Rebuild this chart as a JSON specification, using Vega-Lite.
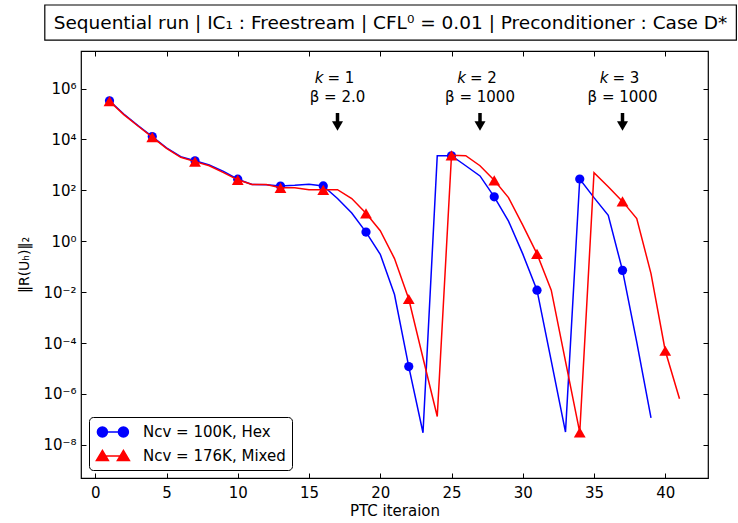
{
  "$schema": "https://vega.github.io/schema/vega-lite/v6.json",
  "width": 627,
  "height": 427,
  "autosize": {"type": "none"},
  "padding": {"left": 81, "top": 51, "right": 30, "bottom": 45},
  "title": {"text": "Sequential run | IC₁ : Freestream | CFL⁰ = 0.01 | Preconditioner : Case D*", "fontSize": 18.5, "font": "DejaVu Sans", "fontWeight": "normal", "anchor": "middle", "frame": "group", "baseline": "middle", "offset": 0, "dy": 37, "dx": -4, "color": "#000"},
  "datasets": {
    "series": [
      {"series": "Hex", "iter": 1, "res": 3.3e5}, {"series": "Hex", "iter": 2, "res": 1.0e5}, {"series": "Hex", "iter": 3, "res": 3.5e4}, {"series": "Hex", "iter": 4, "res": 1.3e4},
      {"series": "Hex", "iter": 5, "res": 4.7e3}, {"series": "Hex", "iter": 6, "res": 2.1e3}, {"series": "Hex", "iter": 7, "res": 1.45e3}, {"series": "Hex", "iter": 8, "res": 1.0e3},
      {"series": "Hex", "iter": 9, "res": 5.6e2}, {"series": "Hex", "iter": 10, "res": 2.75e2}, {"series": "Hex", "iter": 11, "res": 1.7e2}, {"series": "Hex", "iter": 12, "res": 1.66e2},
      {"series": "Hex", "iter": 13, "res": 1.48e2}, {"series": "Hex", "iter": 14, "res": 1.58e2}, {"series": "Hex", "iter": 15, "res": 1.74e2}, {"series": "Hex", "iter": 16, "res": 1.5e2},
      {"series": "Hex", "iter": 17, "res": 4.8e1}, {"series": "Hex", "iter": 18, "res": 1.3e1}, {"series": "Hex", "iter": 19, "res": 2.3}, {"series": "Hex", "iter": 20, "res": 0.31},
      {"series": "Hex", "iter": 21, "res": 8.1e-3}, {"series": "Hex", "iter": 22, "res": 1.2e-5}, {"series": "Hex", "iter": 23, "res": 3.0e-8}, {"series": "Hex", "iter": 24, "res": 2.3e3},
      {"series": "Hex", "iter": 25, "res": 2.3e3}, {"series": "Hex", "iter": 26, "res": 9.3e2}, {"series": "Hex", "iter": 27, "res": 3.7e2}, {"series": "Hex", "iter": 28, "res": 5.6e1},
      {"series": "Hex", "iter": 29, "res": 6.2}, {"series": "Hex", "iter": 30, "res": 0.32}, {"series": "Hex", "iter": 31, "res": 1.2e-2}, {"series": "Hex", "iter": 32, "res": 2.0e-5},
      {"series": "Hex", "iter": 33, "res": 3.2e-8}, {"series": "Hex", "iter": 34, "res": 2.8e2}, {"series": "Hex", "iter": 35, "res": 5.2e1}, {"series": "Hex", "iter": 36, "res": 1.05e1},
      {"series": "Hex", "iter": 37, "res": 7.2e-2}, {"series": "Hex", "iter": 38, "res": 1.1e-4}, {"series": "Hex", "iter": 39, "res": 1.15e-7},
      {"series": "Mixed", "iter": 1, "res": 3.2e5}, {"series": "Mixed", "iter": 2, "res": 9.5e4}, {"series": "Mixed", "iter": 3, "res": 3.4e4}, {"series": "Mixed", "iter": 4, "res": 1.23e4},
      {"series": "Mixed", "iter": 5, "res": 4.5e3}, {"series": "Mixed", "iter": 6, "res": 2.0e3}, {"series": "Mixed", "iter": 7, "res": 1.35e3}, {"series": "Mixed", "iter": 8, "res": 9.3e2},
      {"series": "Mixed", "iter": 9, "res": 5.0e2}, {"series": "Mixed", "iter": 10, "res": 2.6e2}, {"series": "Mixed", "iter": 11, "res": 1.7e2}, {"series": "Mixed", "iter": 12, "res": 1.7e2},
      {"series": "Mixed", "iter": 13, "res": 1.26e2}, {"series": "Mixed", "iter": 14, "res": 1.26e2}, {"series": "Mixed", "iter": 15, "res": 1.07e2}, {"series": "Mixed", "iter": 16, "res": 1.05e2},
      {"series": "Mixed", "iter": 17, "res": 1.07e2}, {"series": "Mixed", "iter": 18, "res": 4.8e1}, {"series": "Mixed", "iter": 19, "res": 1.26e1}, {"series": "Mixed", "iter": 20, "res": 2.6},
      {"series": "Mixed", "iter": 21, "res": 0.21}, {"series": "Mixed", "iter": 22, "res": 5.4e-3}, {"series": "Mixed", "iter": 23, "res": 2.6e-5}, {"series": "Mixed", "iter": 24, "res": 1.3e-7},
      {"series": "Mixed", "iter": 25, "res": 2.4e3}, {"series": "Mixed", "iter": 26, "res": 2.3e3}, {"series": "Mixed", "iter": 27, "res": 9.3e2}, {"series": "Mixed", "iter": 28, "res": 2.5e2},
      {"series": "Mixed", "iter": 29, "res": 5.2e1}, {"series": "Mixed", "iter": 30, "res": 4.3}, {"series": "Mixed", "iter": 31, "res": 0.32}, {"series": "Mixed", "iter": 32, "res": 1.2e-2},
      {"series": "Mixed", "iter": 33, "res": 1.9e-5}, {"series": "Mixed", "iter": 34, "res": 3.1e-8}, {"series": "Mixed", "iter": 35, "res": 5.0e2}, {"series": "Mixed", "iter": 36, "res": 1.4e2},
      {"series": "Mixed", "iter": 37, "res": 3.7e1}, {"series": "Mixed", "iter": 38, "res": 7.8}, {"series": "Mixed", "iter": 39, "res": 5.4e-2}, {"series": "Mixed", "iter": 40, "res": 5.0e-5},
      {"series": "Mixed", "iter": 41, "res": 6.5e-7}
    ],
    "notes": [
      {"iter": 17, "eq": "= 1", "beta": "β = 2.0"},
      {"iter": 27, "eq": "= 2", "beta": "β = 1000"},
      {"iter": 37, "eq": "= 3", "beta": "β = 1000"}
    ]
  },
  "layer": [
    {
      "data": {"values": [{}]},
      "mark": {"type": "rect", "fill": "transparent", "stroke": "#000", "strokeWidth": 1.2},
      "encoding": {
        "x": {"datum": -3.54, "type": "quantitative", "scale": {"domain": [-1, 43], "nice": false, "zero": false},
              "axis": {"orient": "top", "labels": false, "title": null, "values": [0, 5, 10, 15, 20, 25, 30, 35, 40]}},
        "x2": {"datum": 44.99},
        "y": {"datum": 1.93e9, "type": "quantitative", "scale": {"type": "log", "domain": [5e-10, 3e7], "nice": false},
              "axis": {"orient": "right", "labels": false, "title": null, "values": [1e-8, 1e-6, 1e-4, 1e-2, 1, 1e2, 1e4, 1e6]}},
        "y2": {"datum": 8.04e7}
      }
    },
    {
      "data": {"name": "series"},
      "transform": [{"filter": "datum.series == 'Hex'"}],
      "mark": {"type": "line", "color": "#0000ff", "strokeWidth": 1.5},
      "encoding": {
        "x": {"field": "iter", "type": "quantitative", "scale": {"domain": [-1, 43], "nice": false, "zero": false},
              "axis": {"orient": "bottom", "values": [0, 5, 10, 15, 20, 25, 30, 35, 40], "title": "PTC iteraion", "labelPadding": 12, "titlePadding": 3}},
        "y": {"field": "res", "type": "quantitative", "scale": {"type": "log", "domain": [5e-10, 3e7], "nice": false},
              "axis": {"orient": "left", "values": [1e-8, 1e-6, 1e-4, 1e-2, 1, 1e2, 1e4, 1e6], "title": "‖R(Uₕ)‖₂", "titleFontSize": 14, "labelPadding": 10, "titlePadding": 11,
                       "labelExpr": "datum.value < 1e-7 ? '10⁻⁸' : datum.value < 1e-5 ? '10⁻⁶' : datum.value < 1e-3 ? '10⁻⁴' : datum.value < 1e-1 ? '10⁻²' : datum.value < 10 ? '10⁰' : datum.value < 1e3 ? '10²' : datum.value < 1e5 ? '10⁴' : '10⁶'"}}
      }
    },
    {
      "data": {"name": "series"},
      "transform": [{"filter": "datum.series == 'Hex' && datum.iter % 3 == 1"}],
      "mark": {"type": "point", "shape": "circle", "filled": true, "color": "#0000ff", "size": 85, "opacity": 1},
      "encoding": {
        "x": {"field": "iter", "type": "quantitative", "axis": null},
        "y": {"field": "res", "type": "quantitative", "axis": null}
      }
    },
    {
      "data": {"name": "series"},
      "transform": [{"filter": "datum.series == 'Mixed'"}],
      "mark": {"type": "line", "color": "#ff0000", "strokeWidth": 1.5},
      "encoding": {
        "x": {"field": "iter", "type": "quantitative", "axis": null},
        "y": {"field": "res", "type": "quantitative", "axis": null}
      }
    },
    {
      "data": {"name": "series"},
      "transform": [{"filter": "datum.series == 'Mixed' && datum.iter % 3 == 1"}],
      "mark": {"type": "point", "shape": "triangle-up", "filled": true, "color": "#ff0000", "size": 140, "opacity": 1},
      "encoding": {
        "x": {"field": "iter", "type": "quantitative", "axis": null},
        "y": {"field": "res", "type": "quantitative", "axis": null}
      }
    },
    {
      "data": {"name": "series"},
      "transform": [{"filter": "false"}],
      "mark": {"type": "point", "filled": true, "opacity": 1, "strokeWidth": 1.5},
      "encoding": {
        "fill": {"field": "series", "type": "nominal", "scale": {"domain": ["Hex", "Mixed"], "range": ["#0000ff", "#ff0000"]}},
        "stroke": {"field": "series", "type": "nominal", "scale": {"domain": ["Hex", "Mixed"], "range": ["#0000ff", "#ff0000"]}},
        "shape": {"field": "series", "type": "nominal",
          "scale": {"domain": ["Hex", "Mixed"], "range": [
            "M-0.825,0A0.625,0.625,0,1,0,0.425,0A0.625,0.625,0,1,0,-0.825,0ZM1.8,0A0.625,0.625,0,1,0,3.05,0A0.625,0.625,0,1,0,1.8,0ZM-0.2,0L2.425,0",
            "M-0.2,-0.7L0.55,0.55L-0.95,0.55ZM2.425,-0.7L3.175,0.55L1.675,0.55ZM-0.2,0L2.425,0"
          ]},
          "legend": {
            "title": null, "orient": "bottom-left", "offset": 8, "padding": 6,
            "strokeColor": "#000", "fillColor": "#fff", "cornerRadius": 4,
            "symbolSize": 256, "symbolStrokeWidth": 1.5, "symbolOpacity": 1,
            "labelFontSize": 15, "labelColor": "#000", "labelOffset": 30, "rowPadding": 6,
            "labelExpr": "datum.label == 'Hex' ? 'Nᴄᴠ = 100K, Hex' : 'Nᴄᴠ = 176K, Mixed'"
          }
        }
      }
    },
    {
      "data": {"name": "notes"},
      "mark": {"type": "text", "text": "k", "fontStyle": "italic", "fontSize": 15, "align": "right", "baseline": "middle", "dx": -14, "color": "#000"},
      "encoding": {
        "x": {"field": "iter", "type": "quantitative", "axis": null},
        "y": {"datum": 2.5e6, "type": "quantitative", "axis": null}
      }
    },
    {
      "data": {"name": "notes"},
      "mark": {"type": "text", "fontSize": 15, "align": "left", "baseline": "middle", "dx": -10, "color": "#000"},
      "encoding": {
        "x": {"field": "iter", "type": "quantitative", "axis": null},
        "y": {"datum": 2.5e6, "type": "quantitative", "axis": null},
        "text": {"field": "eq"}
      }
    },
    {
      "data": {"name": "notes"},
      "mark": {"type": "text", "fontSize": 15, "align": "center", "baseline": "middle", "color": "#000"},
      "encoding": {
        "x": {"field": "iter", "type": "quantitative", "axis": null},
        "y": {"datum": 4.8e5, "type": "quantitative", "axis": null},
        "text": {"field": "beta"}
      }
    },
    {
      "data": {"name": "notes"},
      "mark": {"type": "rule", "strokeWidth": 3.5, "color": "#000"},
      "encoding": {
        "x": {"field": "iter", "type": "quantitative", "axis": null},
        "y": {"datum": 1.1e5, "type": "quantitative", "axis": null},
        "y2": {"datum": 4.4e4}
      }
    },
    {
      "data": {"name": "notes"},
      "mark": {"type": "point", "shape": "triangle-down", "filled": true, "color": "#000", "size": 121, "opacity": 1},
      "encoding": {
        "x": {"field": "iter", "type": "quantitative", "axis": null},
        "y": {"datum": 3.4e4, "type": "quantitative", "axis": null}
      }
    }
  ],
  "resolve": {"axis": {"x": "independent", "y": "independent"}},
  "config": {
    "font": "DejaVu Sans",
    "view": {"stroke": "#000", "strokeWidth": 1.2},
    "axis": {"grid": false, "domain": false, "tickSize": -5, "tickColor": "#000", "tickWidth": 1, "labelColor": "#000", "labelFontSize": 15, "titleColor": "#000", "titleFontSize": 15, "titleFontWeight": "normal", "labelFlush": false, "labelOverlap": false}
  }
}
